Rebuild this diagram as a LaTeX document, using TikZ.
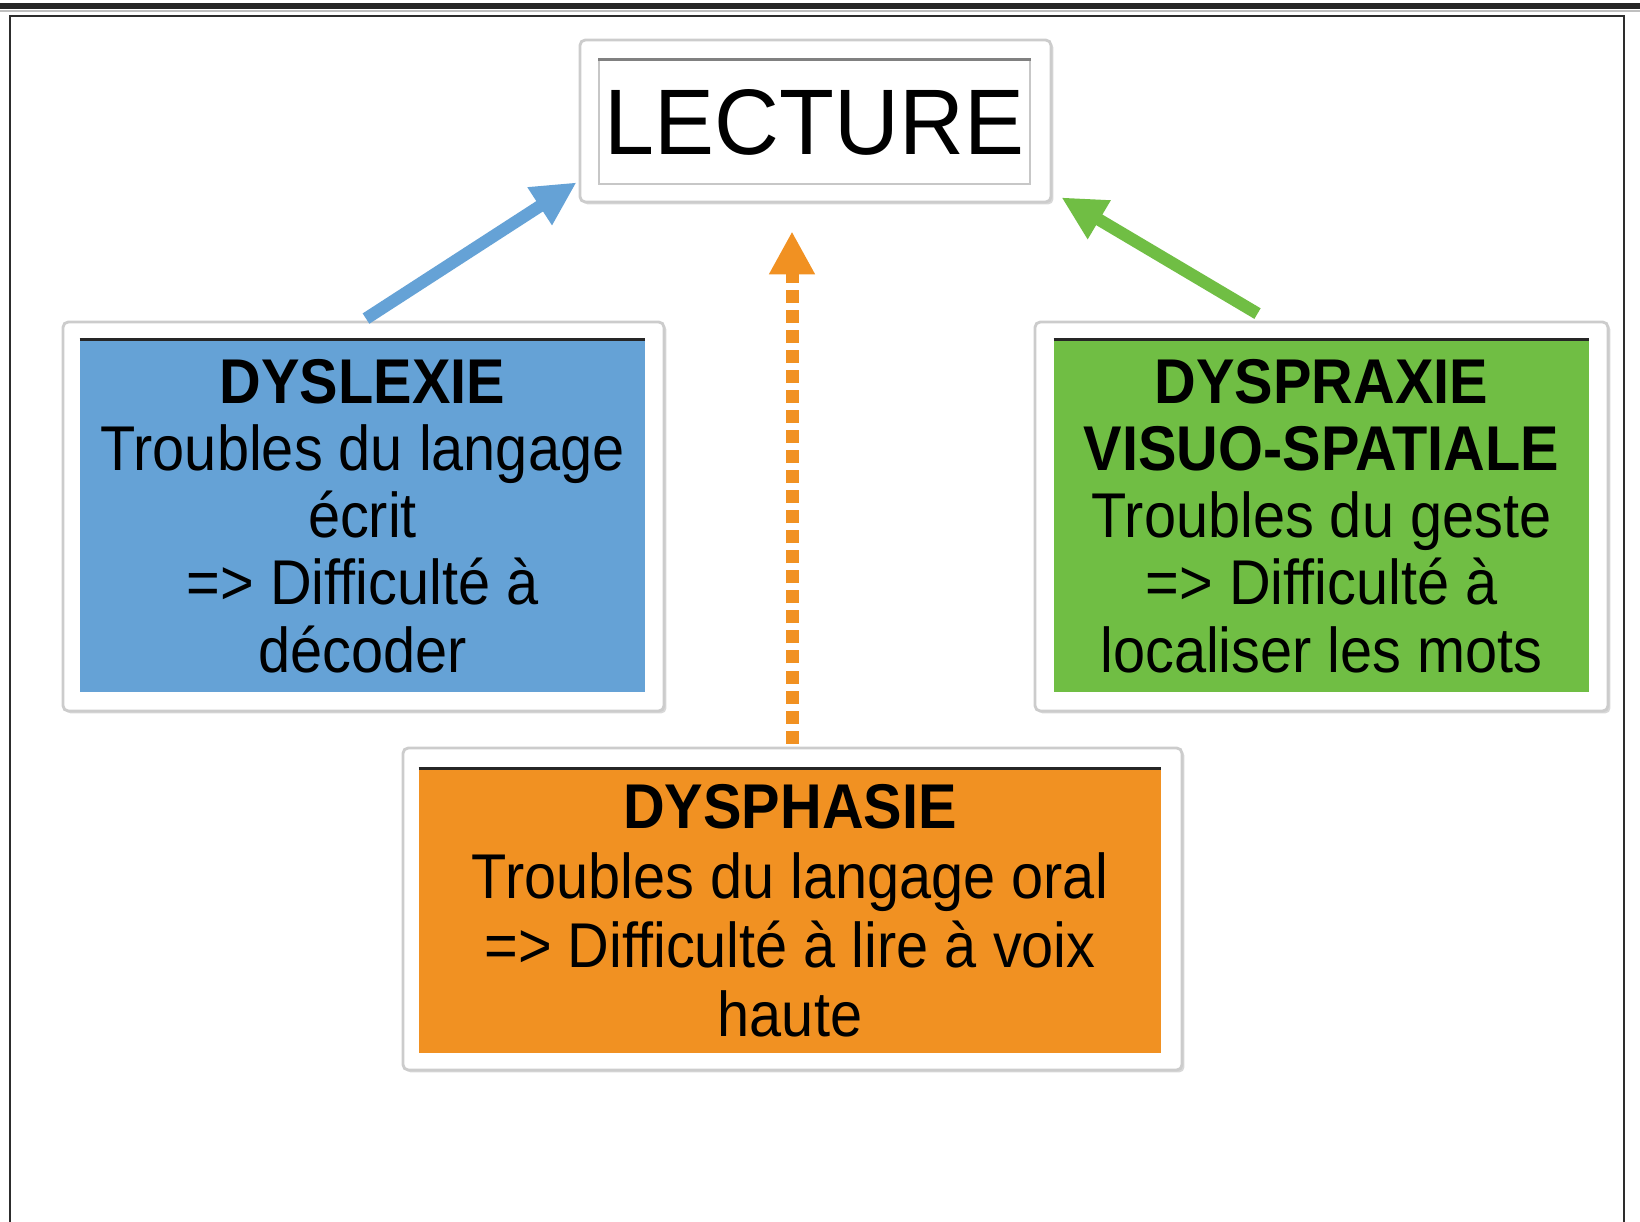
\documentclass[tikz,border=0pt]{standalone}
\usepackage{fontspec}
\setmainfont{Liberation Sans}[FakeStretch=0.912]
\newfontfamily\lecfont{Liberation Sans}[FakeStretch=0.965]
\usetikzlibrary{arrows.meta,calc,shadows}
\definecolor{cblue}{RGB}{101,162,214}
\definecolor{cgreen}{RGB}{112,190,68}
\definecolor{corange}{RGB}{241,145,34}
\definecolor{frameclr}{RGB}{45,45,45}
\begin{document}
\begin{tikzpicture}[x=0.02cm,y=-0.02cm,
  outerbox/.style={draw=black!20, line width=1.6pt, fill=white, rounded corners=3pt,
    drop shadow={shadow xshift=1.4pt, shadow yshift=-1.4pt, fill=black!30, opacity=0.5},
    inner sep=0pt},
  colbox/.style={fill=#1, draw=none, inner sep=0pt, align=center, text=black,
    font=\fontsize{36}{38.2}\selectfont},
  topline/.style={line width=1.7pt, draw=black!85},
  arr/.style={line width=7pt, -{Triangle[length=0.88cm,width=0.84cm]}},
  darr/.style={line width=7.4pt, dash pattern=on 7.4pt off 4pt, -{Triangle[length=0.86cm,width=0.86cm]}}
]
\useasboundingbox (0,0) rectangle (1640,1222);
\fill[white] (0,0) rectangle (1640,1222);
% page frame
\fill[black!85] (0,3) rectangle (1640,9);
\draw[black!25, line width=0.6pt] (0,11) -- (1640,11);
\draw[line width=1.6pt, frameclr] (10,1240) -- (10,16) -- (1624,16) -- (1624,1240);

% LECTURE
\node[outerbox, minimum width=471*0.02cm, minimum height=162*0.02cm] (lect) at (815.5,121) {};
\node[draw=black!22, line width=0.6pt, fill=white, inner sep=0pt,
  minimum width=431*0.02cm, minimum height=124*0.02cm,
  font=\lecfont\fontsize{53}{60}\selectfont] (lectT) at (814.5,122) {LECTURE};
\draw[line width=2.2pt, black!50] (lectT.north west) -- (lectT.north east);

% DYSLEXIE
\node[outerbox, minimum width=601*0.02cm, minimum height=389*0.02cm] (dysl) at (363.5,516.5) {};
\node[colbox=cblue, minimum width=565*0.02cm, minimum height=352*0.02cm] (dyslT) at (362.5,516)
  {\textbf{DYSLEXIE}\\Troubles du langage\\écrit\\=> Difficulté à\\décoder};
\draw[topline] (dyslT.north west) -- (dyslT.north east);

% DYSPRAXIE
\node[outerbox, minimum width=573*0.02cm, minimum height=389*0.02cm] (dyspr) at (1321.5,516.5) {};
\node[colbox=cgreen, minimum width=535*0.02cm, minimum height=352*0.02cm] (dysprT) at (1321.5,516)
  {\textbf{DYSPRAXIE}\\\textbf{VISUO-SPATIALE}\\Troubles du geste\\=> Difficulté à\\localiser les mots};
\draw[topline] (dysprT.north west) -- (dysprT.north east);

% DYSPHASIE
\node[outerbox, minimum width=779*0.02cm, minimum height=322*0.02cm] (dysph) at (792.5,909) {};
\node[colbox=corange, minimum width=742*0.02cm, minimum height=284*0.02cm,
  font=\fontsize{36}{39.4}\selectfont] (dysphT) at (790,911)
  {\textbf{DYSPHASIE}\\Troubles du langage oral\\=> Difficulté à lire à voix\\haute};
\draw[topline] (dysphT.north west) -- (dysphT.north east);

% connectors
\draw[arr, cblue] ($(dysl.north)+(2.5,-2)$) -- ($(lect.south west)+(-2,-21)$);
\draw[arr, cgreen] ($(dyspr.north)+(-64,-7)$) -- ($(lect.south east)+(9,-6)$);
\draw[darr, corange] ($(dysph.north)+(-0.5,-3)$) -- ($(dysph.north |- lect.south)+(-0.5,28)$);
\end{tikzpicture}
\end{document}
